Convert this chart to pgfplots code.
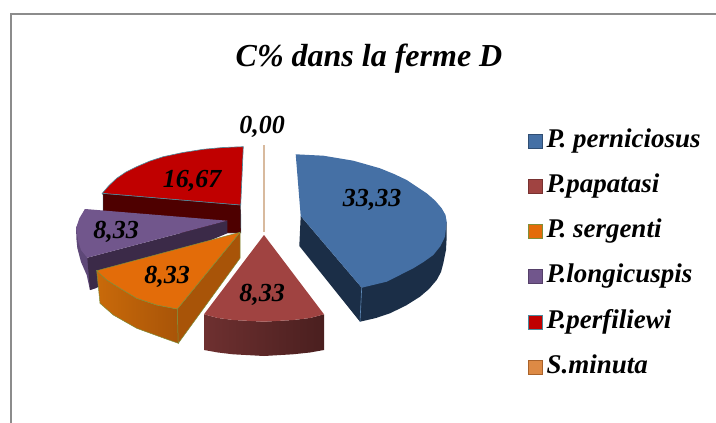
\documentclass[border=0pt]{standalone}
\usepackage{fontspec}
\setmainfont{Liberation Serif}
\usepackage{pgfplots}
\usepackage{pgfplotstable}
\pgfplotsset{compat=1.18}

\definecolor{frame}{HTML}{8C8C8C}
\definecolor{bluetop}{HTML}{4570A5}
\definecolor{blueside}{HTML}{1B2E47}
\definecolor{bluerim}{HTML}{5F8AB8}
\definecolor{browntop}{HTML}{A04341}
\definecolor{brownl}{HTML}{6E3030}
\definecolor{brownr}{HTML}{4A1F1F}
\definecolor{orangetop}{HTML}{E36C09}
\definecolor{orangel}{HTML}{C96A0A}
\definecolor{oranger}{HTML}{A85408}
\definecolor{orangerim}{HTML}{7F8F3A}
\definecolor{purpletop}{HTML}{71568C}
\definecolor{purpleside}{HTML}{5E4878}
\definecolor{purpledark}{HTML}{3B2A48}
\definecolor{redtop}{HTML}{C00000}
\definecolor{redside}{HTML}{4E0000}
\definecolor{redrim}{HTML}{4A8A9C}
\definecolor{minutaline}{HTML}{D8BA9E}
\definecolor{minutabox}{HTML}{DD8A45}
\definecolor{minutarim}{HTML}{A9622A}

\pgfplotstableread{
x y v
372 200 33,33
262 295 8,33
167 277 8,33
116 232 8,33
192 181 16,67
262 127 0,00
}\labels

\begin{document}
\begin{tikzpicture}
\begin{axis}[
    width=716pt, height=423pt, scale only axis,
    xmin=0, xmax=716, ymin=0, ymax=423, y dir=reverse,
    hide axis,
    legend image code/.code={\draw[#1] (0pt,-7pt) rectangle (14pt,7pt); \path (18pt,0pt);},
    legend cell align=left,
    legend style={
        at={(axis cs:527.5,129)}, anchor=north west, draw=none, fill=none,
        inner sep=0pt, outer sep=0pt,
        font=\fontsize{27}{27}\selectfont\bfseries\itshape,
        row sep=21.3pt,
        nodes={inner sep=0pt, text height=18pt, text depth=6pt},
    },
]
% keeps the whole canvas in the page
\path (axis cs:0,0) rectangle (axis cs:716,423);

% frame of the chart area
\addplot[frame, line width=1.5pt, forget plot] coordinates {(716,14) (11,14) (11,423)};

% P.perfiliewi
\addplot[fill=redside, draw=redrim, line width=.4pt, forget plot] coordinates {
 (102.3,193.3) (240.7,205) (241,233) (103,233) (103,195)} -- cycle;
\addplot[fill=redtop, draw=redrim, line width=.6pt, forget plot] coordinates {
 (243.3,146.7) (240.7,205) (102.3,193.3) (109,185.5) (116.7,178.3) (126,172) (136.7,166.7)
 (150,161) (163.3,156.7) (183,152.5) (203.3,149.3) (223,147.5)} -- cycle;

% P.longicuspis
\addplot[fill=purpleside, draw=none, forget plot] coordinates {
 (85,209) (76,228) (76.5,240) (77.3,248) (81,262) (86.7,275) (90,290) (96,288) (96,270) (87.3,257.7)} -- cycle;
\addplot[fill=purpledark, draw=none, forget plot] coordinates {
 (87.3,257.7) (227.3,220.7) (227.3,233.3) (96,288) (90,290)} -- cycle;
\addplot[fill=purpletop, draw=none, forget plot] coordinates {
 (85,209) (227.3,220.7) (87.3,257.7) (81,250) (78.3,241.7) (76,228.3) (79.5,218)} -- cycle;

% P. sergenti
\addplot[left color=orangel, right color=oranger, draw=orangerim, line width=.5pt, forget plot] coordinates {
 (96.7,270.7) (106.7,280) (120,288.3) (136.7,298.3) (156.7,305) (177.3,309) (178.3,343.3)
 (163.3,338) (136.7,328.3) (113.3,315) (100,303.3)} -- cycle;
\addplot[fill=oranger, draw=orangerim, line width=.5pt, forget plot] coordinates {
 (240,232.3) (240,258.3) (178.3,343.3) (177.3,309)} -- cycle;
\addplot[fill=orangetop, draw=orangerim, line width=.5pt, forget plot] coordinates {
 (240,232.3) (177.3,309) (156.7,305) (136.7,298.3) (120,288.3) (106.7,280) (96.7,270.7)} -- cycle;

% P.papatasi
\addplot[left color=brownl, right color=brownr, draw=none, forget plot] coordinates {
 (204,314.3) (218,318) (233.3,320) (264,321.7) (293.3,320) (310,318) (324,314.3)
 (324,350) (310,352.5) (293,354.3) (264,356) (233,354.3) (218,352.5) (204,350)} -- cycle;
\addplot[fill=browntop, draw=none, forget plot] coordinates {
 (264,235) (324,314.3) (310,318) (293.3,320) (264,321.7) (233.3,320) (218,318) (204,314.3)} -- cycle;

% P. perniciosus
\addplot[fill=blueside, draw=none, forget plot] coordinates {
 (300.7,216) (299.3,246) (360,321.7) (376,318) (390,313.3) (406,305.5) (420,296.7) (429,289)
 (436.7,280) (441,272) (443.3,263.3) (446,250) (446.7,236.7) (446.7,221.7) (361.7,287.7)} -- cycle;
\addplot[bluerim, line width=.6pt, forget plot] coordinates {(361.7,287.7) (360,321.7)};
\addplot[fill=bluetop, draw=none, forget plot] coordinates {
 (295.7,154.3) (323.3,155.7) (353.3,160.7) (380,168.3) (394,174) (406.7,180) (426.7,193.3) (435,200.5) (441.7,208.3)
 (445.5,215) (446.7,221.7) (445,236.7) (440.5,246) (433.3,255) (423.5,262) (413.3,268.3) (386.7,281.7) (361.7,287.7) (300.7,216)} -- cycle;

% S.minuta: a slice of no width
\addplot[minutaline, line width=1.6pt, forget plot] coordinates {(264,145) (264,231.7)};

% value labels
\addplot[draw=none, mark=none, forget plot,
    nodes near coords, point meta=explicit symbolic,
    nodes near coords style={anchor=center, inner sep=0pt, text=black,
        font=\fontsize{26}{26}\selectfont\bfseries\itshape},
] table [x=x, y=y, meta=v] {\labels};

% legend, in the order of the series
\addlegendimage{fill=bluetop, draw=bluetop!70!black, line width=1pt}
\addlegendentry{P. perniciosus}
\addlegendimage{fill=browntop, draw=browntop!75!black, line width=1pt}
\addlegendentry{P.papatasi}
\addlegendimage{fill=orangetop, draw=orangerim, line width=1pt}
\addlegendentry{P. sergenti}
\addlegendimage{fill=purpletop, draw=purpletop!75!black, line width=1pt}
\addlegendentry{P.longicuspis}
\addlegendimage{fill=redtop, draw=redrim, line width=1pt}
\addlegendentry{P.perfiliewi}
\addlegendimage{fill=minutabox, draw=minutarim, line width=1pt}
\addlegendentry{S.minuta}

% title
\node[font=\fontsize{32}{32}\selectfont\bfseries\itshape] at (axis cs:369,59) {C\% dans la ferme D};
\end{axis}
\end{tikzpicture}
\end{document}
